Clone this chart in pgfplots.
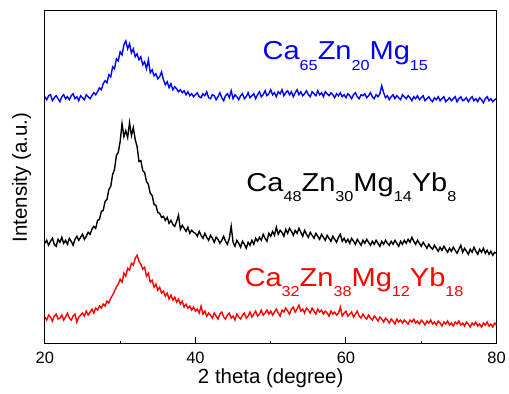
\documentclass[border=0pt]{standalone}
\usepackage{pgfplots}
\usepackage{pgfplotstable}
\usepackage{graphicx}
\usepackage{fontspec}
\setmainfont{Liberation Sans}
\pgfplotsset{compat=1.18}
\newcommand\sub[1]{\raisebox{-10.5bp}{\fontsize{14.5bp}{15bp}\selectfont #1}}
\pgfplotstableread{
x b k r
20.00 248 101 27
20.25 245 104 24
20.50 249 99 29
20.75 250 103 27
21.00 244 106 23
21.25 247 100 28
21.50 249 98 30
21.75 246 105 25
22.00 243 102 26
22.25 248 107 29
22.50 250 101 24
22.75 246 104 27
23.00 248 100 31
23.25 245 106 26
23.50 249 103 24
23.75 251 99 28
24.00 246 105 30
24.25 248 108 22
24.50 244 104 27
24.75 249 107 29
25.00 247 110 31
25.25 245 105 28
25.50 250 108 33
25.75 248 112 29
26.00 246 110 32
26.25 249 115 35
26.50 252 118 31
26.75 250 116 36
27.00 253 124 34
27.25 257 125 38
27.50 255 133 36
27.75 261 134 40
28.00 264 143 38
28.25 262 145 43
28.50 270 155 41
28.75 268 158 46
29.00 278 170 49
29.25 276 175 53
29.50 286 189 57
29.75 284 192 60
30.00 293 203 65
30.25 290 221 62
30.50 300 208 71
30.75 304 214 68
31.00 296 207 76
31.25 301 222 74
31.50 292 209 81
31.75 296 217 79
32.00 288 205 86
32.25 291 198 89
32.50 285 183 83
32.75 288 184 80
33.00 280 174 75
33.25 283 172 77
33.50 276 163 68
33.75 285 160 71
34.00 272 151 62
34.25 275 149 64
34.50 269 140 57
34.75 271 139 60
35.00 266 132 54
35.25 268 131 57
35.50 273 127 51
35.75 265 128 53
36.00 260 124 48
36.25 263 127 51
36.50 257 121 45
36.75 261 124 49
37.00 255 120 44
37.25 258 118 47
37.50 256 123 42
37.75 253 129 45
38.00 255 115 40
38.25 252 119 43
38.50 254 116 37
38.75 250 113 40
39.00 253 117 36
39.25 249 111 38
39.50 251 114 34
39.75 248 112 37
40.00 250 111 33
40.25 252 108 35
40.50 248 113 31
40.75 247 109 38
41.00 251 106 30
41.25 249 111 33
41.50 253 107 28
41.75 247 104 31
42.00 246 109 29
42.25 250 106 26
42.50 249 102 31
42.75 245 107 28
43.00 248 105 25
43.25 252 101 30
43.50 247 104 32
43.75 244 108 27
44.00 249 103 25
44.25 251 100 29
44.50 247 106 31
44.75 254 118 26
45.00 246 102 28
45.25 250 98 24
45.50 248 104 30
45.75 245 101 27
46.00 249 97 25
46.25 251 103 29
46.50 246 100 31
46.75 248 96 26
47.00 252 102 28
47.25 247 99 32
47.50 249 104 27
47.75 251 100 30
48.00 246 106 33
48.25 250 103 28
48.50 253 107 30
48.75 248 104 34
49.00 250 110 29
49.25 254 106 31
49.50 249 103 34
49.75 251 111 30
50.00 255 108 33
50.25 250 113 29
50.50 252 109 32
50.75 248 117 35
51.00 253 110 31
51.25 251 114 28
51.50 255 112 34
51.75 249 108 32
52.00 252 115 36
52.25 254 111 33
52.50 250 116 30
52.75 253 113 35
53.00 248 109 37
53.25 252 114 32
53.50 255 111 35
53.75 250 116 39
54.00 253 112 33
54.25 249 108 35
54.50 251 114 31
54.75 254 110 36
55.00 250 107 34
55.25 248 112 31
55.50 253 109 36
55.75 251 106 33
56.00 249 111 30
56.25 254 108 35
56.50 250 105 32
56.75 252 110 34
57.00 248 107 30
57.25 253 104 33
57.50 251 109 31
57.75 249 106 28
58.00 252 103 33
58.25 250 108 30
58.50 247 105 32
58.75 251 102 29
59.00 249 107 31
59.25 252 110 37
59.50 248 103 28
59.75 250 106 31
60.00 247 102 33
60.25 251 105 28
60.50 249 101 30
60.75 246 106 32
61.00 250 103 27
61.25 252 100 30
61.50 248 105 33
61.75 246 102 28
62.00 250 99 26
62.25 249 104 30
62.50 251 101 27
62.75 247 105 25
63.00 249 102 29
63.25 252 99 26
63.50 248 103 24
63.75 246 100 28
64.00 250 104 26
64.25 248 101 23
64.50 251 98 27
64.75 259 103 25
65.00 252 100 22
65.25 247 104 26
65.50 249 101 24
65.75 245 99 21
66.00 248 103 25
66.25 250 100 23
66.50 246 104 20
66.75 249 101 25
67.00 247 98 22
67.25 245 103 24
67.50 250 100 21
67.75 248 104 24
68.00 246 101 22
68.25 249 105 20
68.50 247 102 24
68.75 244 107 22
69.00 248 103 25
69.25 246 100 21
69.50 249 104 23
69.75 245 101 20
70.00 247 98 24
70.25 249 102 22
70.50 244 99 19
70.75 246 96 23
71.00 248 100 21
71.25 245 97 24
71.50 243 95 20
71.75 247 99 22
72.00 245 96 19
72.25 248 93 23
72.50 244 97 21
72.75 246 94 18
73.00 248 98 22
73.25 243 95 20
73.50 245 92 23
73.75 247 96 19
74.00 244 93 21
74.25 246 97 18
74.50 248 94 22
74.75 243 91 20
75.00 246 95 23
75.25 248 99 19
75.50 244 92 21
75.75 245 96 18
76.00 247 93 22
76.25 243 90 20
76.50 246 95 17
76.75 248 92 21
77.00 244 97 19
77.25 246 93 22
77.50 243 90 18
77.75 247 95 20
78.00 245 92 17
78.25 242 96 21
78.50 246 91 19
78.75 248 94 22
79.00 244 90 18
79.25 246 93 20
79.50 243 89 17
79.75 245 92 21
80.00 246 91 19
}\xrd
\begin{document}
\begin{tikzpicture}
\begin{axis}[
  scale only axis, width=453bp, height=334bp,
  xmin=20, xmax=80, ymin=0, ymax=334,
  axis line style={line width=1bp},
  tick align=inside, xtick pos=bottom, ytick pos=left,
  xtick={20,40,60,80}, minor xtick={30,50,70},
  ytick=\empty, minor ytick={17,80,143,206,269},
  major tick length=7bp, minor tick length=3.5bp,
  every tick/.style={black, line width=1bp},
  /pgf/number format/assume math mode=true,
  ticklabel style={font=\fontsize{16.5bp}{18bp}\selectfont},
  xticklabel style={yshift=-4.5bp},
  xlabel={2 theta (degree)}, ylabel={Intensity (a.u.)},
  label style={font=\fontsize{20.5bp}{24bp}\selectfont},
  xlabel style={at={(axis description cs:0.5,-0.1198)}, anchor=base},
  ylabel style={at={(axis description cs:-0.0397,0.5)}, anchor=base},
]
\addplot[blue, line width=1.4bp] table[x=x, y=b]{\xrd};
\addplot[black, line width=1.4bp] table[x=x, y=k]{\xrd};
\addplot[red, line width=1.4bp] table[x=x, y=r]{\xrd};
\node[anchor=base west, inner sep=0, blue, font=\fontsize{26bp}{30bp}\selectfont] at (axis cs:48.9,285) {\scalebox{1.12}[1]{Ca\sub{65}Zn\sub{20}Mg\sub{15}}};
\node[anchor=base west, inner sep=0, black, font=\fontsize{26bp}{30bp}\selectfont] at (axis cs:46.75,153) {\scalebox{1.12}[1]{Ca\sub{48}Zn\sub{30}Mg\sub{14}Yb\sub{8}}};
\node[anchor=base west, inner sep=0, red, font=\fontsize{26bp}{30bp}\selectfont] at (axis cs:46.5,58) {\scalebox{1.12}[1]{Ca\sub{32}Zn\sub{38}Mg\sub{12}Yb\sub{18}}};
\end{axis}
\path (-45bp,-50bp) rectangle (464bp,345bp);
\end{tikzpicture}
\end{document}
